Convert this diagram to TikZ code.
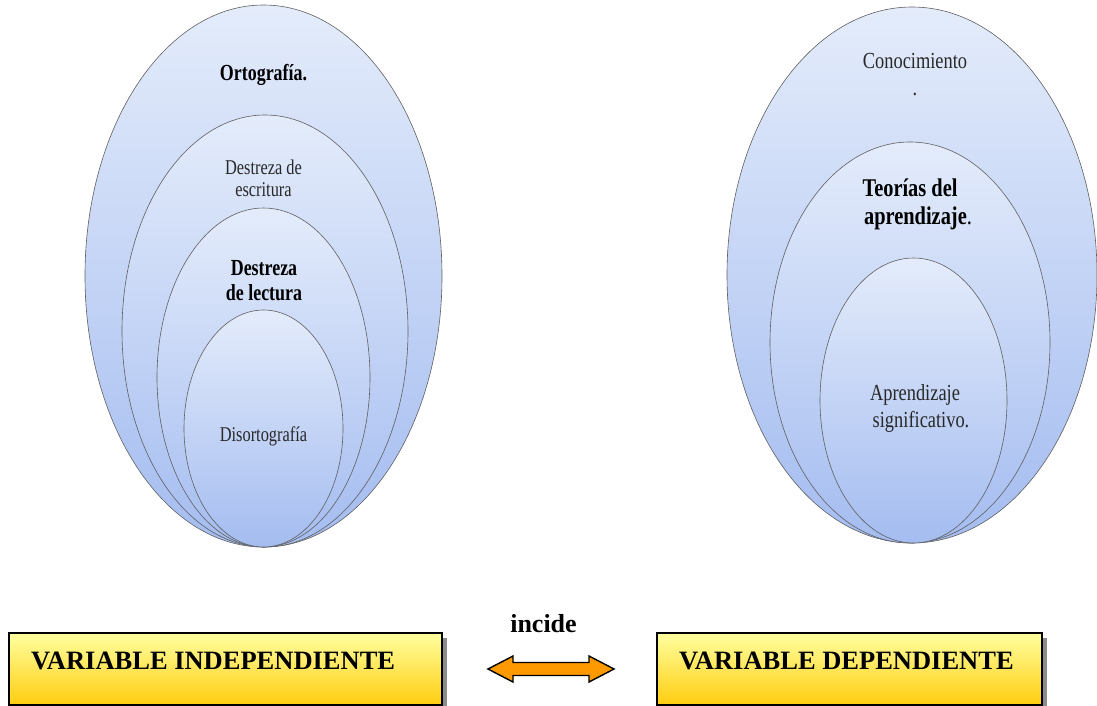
\documentclass[tikz,border=0pt]{standalone}
\usepackage{fontspec}
\setmainfont{Liberation Serif}
\newfontfamily\condL[FakeStretch=0.78]{Liberation Serif}
\newfontfamily\condR[FakeStretch=0.80]{Liberation Serif}
\usetikzlibrary{shapes.geometric,calc}
\definecolor{elltop}{RGB}{228,236,251}
\definecolor{ellbot}{RGB}{164,188,240}
\definecolor{ellline}{RGB}{95,95,95}
\definecolor{boxtop}{RGB}{255,255,160}
\definecolor{boxbot}{RGB}{255,205,15}
\definecolor{arrfill}{RGB}{255,153,0}
\definecolor{shadowgray}{RGB}{140,140,140}
\definecolor{txtgray}{RGB}{40,40,40}
\begin{document}
\begin{tikzpicture}[x=1pt,y=-1pt,
  ell/.style={ellipse, draw=ellline, line width=0.6pt, top color=elltop, bottom color=ellbot, inner sep=0pt, outer sep=0pt},
  lreg/.style={font=\condL\fontsize{21}{25}\selectfont, text=txtgray, anchor=mid, inner sep=0pt},
  lbold/.style={font=\condL\bfseries\fontsize{23}{27}\selectfont, anchor=mid, inner sep=0pt},
  rreg/.style={font=\condR\fontsize{23}{27}\selectfont, text=txtgray, anchor=mid, inner sep=0pt},
  rbold/.style={font=\condR\bfseries\fontsize{25.5}{29}\selectfont, anchor=mid, inner sep=0pt},
  varbox/.style={rectangle, draw=black, line width=1.6pt, top color=boxtop, bottom color=boxbot, inner sep=0pt, outer sep=0pt, minimum height=72pt},
  vartext/.style={font=\bfseries\fontsize{26.5}{30}\selectfont, anchor=base west, inner sep=0pt},
  boxshadow/.style={fill=shadowgray},
  blockarrow/.style={fill=arrfill, draw=black, line width=1.4pt, line join=miter}
]
\useasboundingbox (0,0) rectangle (1097,706);

% left nested ellipses
\node[ell, minimum width=357pt, minimum height=542pt] (L1) at (263.5,276) {};
\node[ell, minimum width=286pt, minimum height=432pt] (L2) at (265,331) {};
\node[ell, minimum width=213pt, minimum height=339pt] (L3) at (263.5,377.5) {};
\node[ell, minimum width=159pt, minimum height=237pt] (L4) at (263.5,428.5) {};

\node[lbold] (tL1) at (263.5,78) {Ortografía.};
\node[lreg] (tL2a) at (263.5,172) {Destreza de};
\node[lreg] (tL2b) at (263.5,194) {escritura};
\node[lbold] (tL3a) at (264,273) {Destreza};
\node[lbold] (tL3b) at (264,298) {de lectura};
\node[lreg] (tL4) at (263.5,439) {Disortografía};

% right nested ellipses
\node[ell, minimum width=370pt, minimum height=536pt] (R1) at (912,275) {};
\node[ell, minimum width=280pt, minimum height=401pt] (R2) at (910,342.5) {};
\node[ell, minimum width=187pt, minimum height=285pt] (R3) at (913.5,400.5) {};

\node[rreg] (tR1a) at (915,66) {Conocimiento};
\node[rreg] (tR1b) at (915,93) {.};
\node[rbold] (tR2a) at (910,194) {Teorías del};
\node[rbold] (tR2b) at (918,222) {aprendizaje\mdseries.};
\node[rreg] (tR3a) at (915,398) {Aprendizaje};
\node[rreg] (tR3b) at (921,425) {significativo.};

% boxes with shadows
\fill[boxshadow] (14,638) rectangle (447,711);
\fill[boxshadow] (662,638) rectangle (1047,711);
\node[varbox, minimum width=433pt] (VI) at (225.5,669) {};
\node[varbox, minimum width=385pt] (VD) at (849.5,669) {};
\node[vartext] (tVI) at (31,669.3) {VARIABLE INDEPENDIENTE};
\node[vartext] (tVD) at (679,669.3) {VARIABLE DEPENDIENTE};

% incide and double block arrow
\node[font=\bfseries\fontsize{26}{30}\selectfont, anchor=base, inner sep=0pt] (inc) at (543.5,632) {incide};
\coordinate (ac) at (551,669);
\draw[blockarrow] ($(ac)+(-63,0)$) -- ($(ac)+(-38,-13)$) -- ($(ac)+(-38,-6.5)$) -- ($(ac)+(38,-6.5)$)
  -- ($(ac)+(38,-13)$) -- ($(ac)+(63,0)$) -- ($(ac)+(38,13)$) -- ($(ac)+(38,6.5)$)
  -- ($(ac)+(-38,6.5)$) -- ($(ac)+(-38,13)$) -- cycle;
\end{tikzpicture}
\end{document}
